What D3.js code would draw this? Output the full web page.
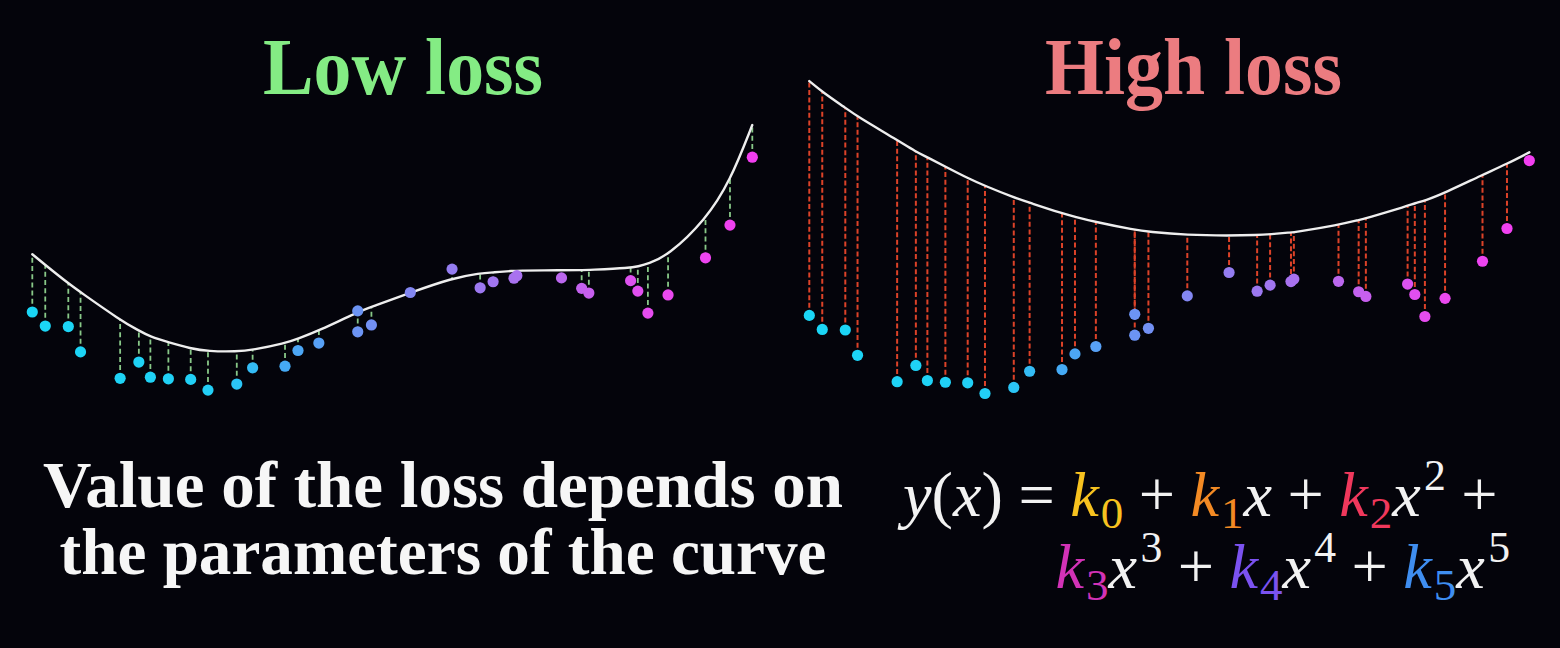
<!DOCTYPE html>
<html>
<head>
<meta charset="utf-8">
<script src="https://cdn.jsdelivr.net/npm/d3@7"></script>
<style>
html,body{margin:0;padding:0;background:#04040b;overflow:hidden}
svg{display:block}
</style>
</head>
<body>
<svg id="chart" width="1560" height="648"></svg>
<script>
// ---- data (shared sample points) ----
const xs = [0.00,0.18,0.50,0.67,1.22,1.48,1.64,1.89,2.20,2.44,2.84,3.06,3.51,3.69,3.98,4.52,4.52,4.71,5.25,5.83,6.22,6.40,6.69,6.73,7.35,7.63,7.73,8.31,8.41,8.55,8.83,9.35,9.69,10.00];
const ys = [3.20,2.69,2.67,1.75,0.79,1.38,0.83,0.77,0.75,0.36,0.58,1.17,1.23,1.80,2.07,3.24,2.48,2.73,3.91,4.76,4.08,4.30,4.43,4.52,4.44,4.06,3.89,4.34,3.96,3.16,3.82,5.17,6.36,8.83];
// fitted curve value at each sample x
const lowFit = [5.30,4.91,4.24,3.92,2.91,2.52,2.30,2.10,1.87,1.77,1.76,1.82,2.06,2.23,2.52,3.20,3.20,3.38,3.90,4.43,4.61,4.64,4.70,4.70,4.72,4.72,4.73,4.80,4.86,4.95,5.25,6.55,7.94,10.00];
const highFit = [11.72,11.33,10.75,10.43,9.58,9.15,8.95,8.61,8.19,7.91,7.49,7.30,6.91,6.79,6.59,6.31,6.31,6.24,6.12,6.10,6.12,6.15,6.22,6.22,6.49,6.67,6.73,7.18,7.28,7.37,7.66,8.31,8.71,9.13];

const titles = ["Low loss", "High loss"];
const caption = ["Value of the loss depends on", "the parameters of the curve"];

// equation tokens: [text, kind, coefficient index]
const eqLine1 = [["y","i"],["(",""],["x","i"],[")",""],["=","op"],["k","i",0],["0","sub",0],["+","op"],["k","i",1],["1","sub",1],["x","i"],["+","op"],["k","i",2],["2","sub",2],["x","i"],["2","sup"],["+","op"]];
const eqLine2 = [["k","i",3],["3","sub",3],["x","i"],["3","sup"],["+","op"],["k","i",4],["4","sub",4],["x","i"],["4","sup"],["+","op"],["k","i",5],["5","sub",5],["x","i"],["5","sup"]];

// ---- styles ----
const coefColors = ["#f7c21f","#f38a24","#f0385c","#d232b6","#7b52f0","#3f8ef0"];
const pointColorDomain = [0, 2.6, 3.5, 4.6, 5.8, 6.6, 7.6, 8.6, 10];
const pointColorRange = ["#1ad6f6","#22cff6","#45aaf5","#6f92f4","#937df1","#a574ef","#c262ee","#e84bef","#f23ef0"];

const svg = d3.select("#chart");
svg.append("rect").attr("width",1560).attr("height",648).attr("fill","#04040b");

const pointColor = d3.scaleLinear().domain(pointColorDomain).range(pointColorRange).interpolate(d3.interpolateRgb);

const panels = [
  {fit: lowFit, left: 32.3, bottom: 400, dash: "#88c888", dashArray: "5 3.2", dashW: 1.8, title: titles[0], titleColor: "#84ec84", titleCx: 403, titleW: 280},
  {fit: highFit, left: 809.3, bottom: 403.4, dash: "#dc4228", dashArray: "5 2.6", dashW: 2, title: titles[1], titleColor: "#ec7c80", titleCx: 1193.5, titleW: 297}
];

const data = xs.map((x, i) => ({x, y: ys[i], i}));

panels.forEach(p => {
  const xScale = d3.scaleLinear().domain([0, 10]).range([p.left, p.left + 720]);
  const yScale = d3.scaleLinear().domain([0, 10]).range([p.bottom, p.bottom - 275]);
  const g = svg.append("g");
  const gRes = g.append("g"), gCurve = g.append("g"), gPts = g.append("g");

  // smooth curve through fitted values
  const curvePts = [];
  xs.forEach((x, i) => {
    if (curvePts.length && Math.abs(curvePts[curvePts.length-1].x - x) < 0.001) return;
    curvePts.push({x, y: p.fit[i]});
  });
  const line = d3.line().x(d => xScale(d.x)).y(d => yScale(d.y)).curve(d3.curveBasis);
  const path = gCurve.append("path").attr("d", line(curvePts)).attr("fill","none")
    .attr("stroke","#eeeeee").attr("stroke-width",2.4).attr("stroke-linecap","round");

  // curve lookup (pixel y at pixel x) so residuals meet the drawn curve
  const node = path.node(), L = node.getTotalLength();
  const samples = d3.range(0, L + 0.5, 0.5).map(l => node.getPointAtLength(Math.min(l, L)));
  const bis = d3.bisector(d => d.x).left;
  const yAt = px => {
    const j = bis(samples, px);
    if (j <= 0) return samples[0].y;
    if (j >= samples.length) return samples[samples.length-1].y;
    const a = samples[j-1], b = samples[j];
    const t = (px - a.x) / ((b.x - a.x) || 1);
    return a.y + t * (b.y - a.y);
  };

  // residual lines
  gRes.selectAll("line").data(data).join("line")
    .attr("x1", d => xScale(d.x)).attr("x2", d => xScale(d.x))
    .attr("y1", d => yScale(d.y)).attr("y2", d => yAt(xScale(d.x)))
    .attr("stroke", p.dash).attr("stroke-width", p.dashW)
    .attr("stroke-dasharray", p.dashArray);

  // points
  gPts.selectAll("circle").data(data).join("circle")
    .attr("cx", d => xScale(d.x)).attr("cy", d => yScale(d.y)).attr("r", 5.6)
    .attr("fill", d => pointColor(d.x));

  // title
  svg.append("text").attr("x", p.titleCx).attr("y", 94)
    .attr("text-anchor","middle")
    .attr("font-family","'Liberation Serif','Times New Roman',serif")
    .attr("font-weight","bold").attr("font-size",80)
    .attr("textLength", p.titleW).attr("lengthAdjust","spacingAndGlyphs")
    .attr("fill", p.titleColor).text(p.title);
});

// caption
const capY = [507, 574];
const capW = [800, 767];
caption.forEach((t, i) => {
  svg.append("text").attr("x", 443).attr("y", capY[i])
    .attr("text-anchor","middle")
    .attr("font-family","'Liberation Serif','Times New Roman',serif")
    .attr("font-weight","bold").attr("font-size",66)
    .attr("textLength", capW[i]).attr("lengthAdjust","spacingAndGlyphs")
    .attr("fill","#f6f6f6").text(t);
});

// equation
function mathLine(tokens, fs) {
  const t = svg.append("text")
    .attr("font-family","'Liberation Serif','DejaVu Serif',serif")
    .attr("font-size", fs).attr("fill","#f2f2f2");
  let cur = 0, pendingDx = 0;
  tokens.forEach(tok => {
    const [txt, kind, ci] = tok;
    const s = t.append("tspan").text(txt);
    let off = 0, dx = pendingDx;
    pendingDx = 0;
    if (kind === "i") s.attr("font-style","italic");
    if (kind === "sub") { s.attr("font-size", fs*0.7); dx += fs*0.03; off = fs*0.19; }
    if (kind === "sup") { s.attr("font-size", fs*0.68); dx += fs*0.05; off = -fs*0.4; }
    if (kind === "op") { dx += fs*0.24; pendingDx = fs*0.24; }
    if (dx) s.attr("dx", dx);
    if (off !== cur) { s.attr("dy", off - cur); cur = off; }
    if (ci !== undefined) s.attr("fill", coefColors[ci]);
  });
  return t;
}
function measure(tokens, fs) {
  const t = mathLine(tokens, fs);
  const w = t.node().getBBox().width;
  t.remove();
  return w;
}
const fs0 = 54;
const w1 = measure(eqLine1, fs0), w2 = measure(eqLine2, fs0);
const fsEq = fs0 * ((600 / w1) + (455 / w2)) / 2;
const l1 = mathLine(eqLine1, fsEq);
l1.attr("x", 903).attr("y", 516);
const l2 = mathLine(eqLine2, fsEq);
const w2b = l2.node().getBBox().width;
l2.attr("x", 1510 - w2b).attr("y", 588);
</script>
</body>
</html>
